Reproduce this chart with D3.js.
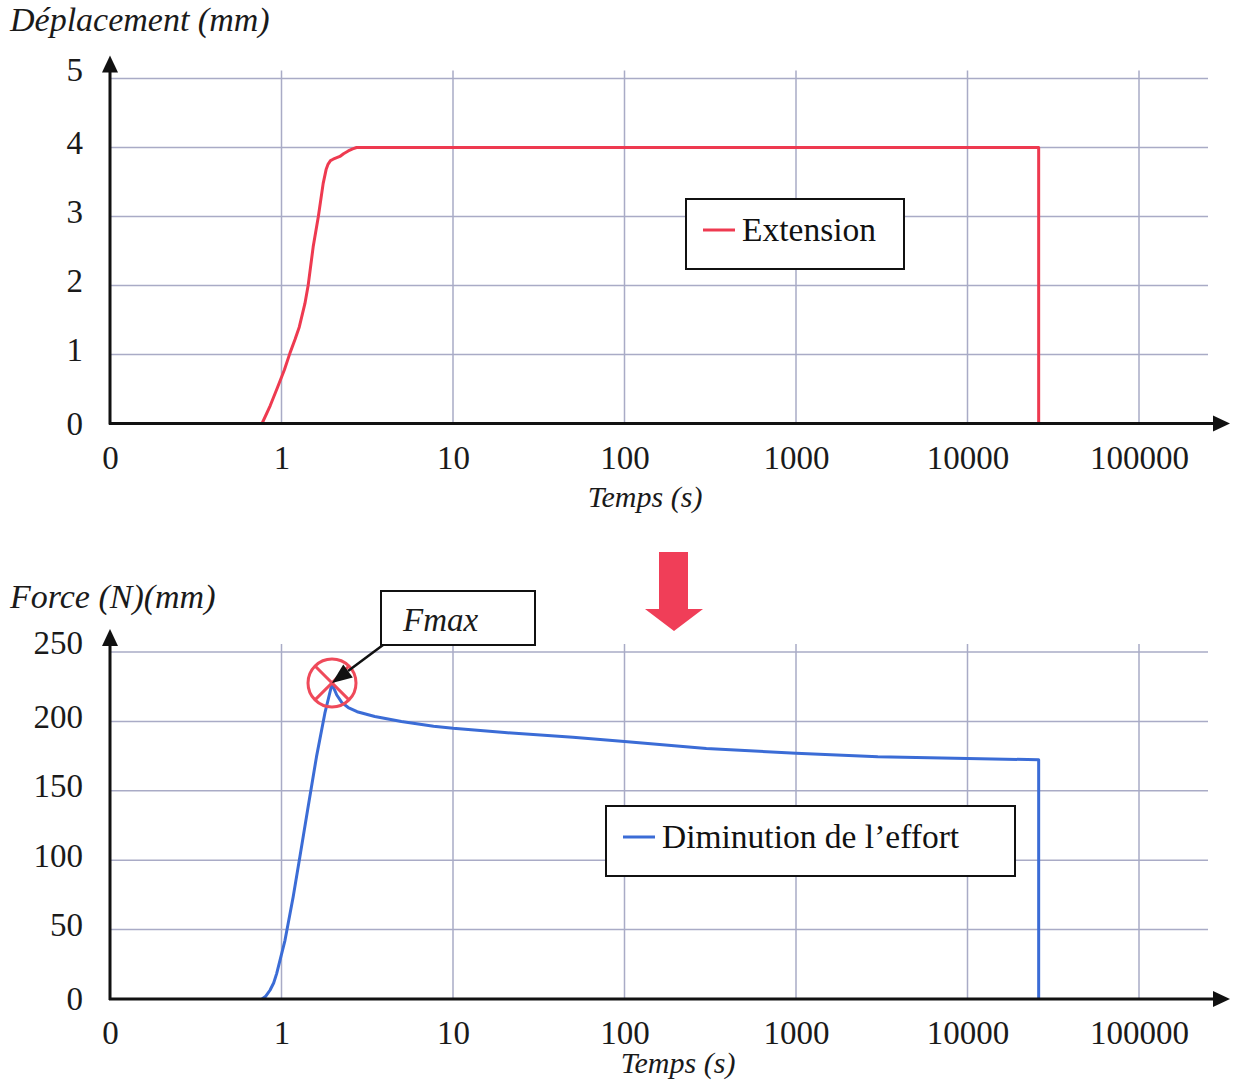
<!DOCTYPE html>
<html lang="fr">
<head>
  <meta charset="UTF-8" />
  <title>Déplacement / Force en fonction du temps</title>
  <style>
    body {
      margin: 0;
      background: #fff;
    }
    svg {
      display: block;
      font-family: "Liberation Serif", "Times New Roman", serif;
    }
    .grid line {
      stroke: #a9abc6;
      stroke-width: 1.5px;
    }
    .axis-line {
      stroke: #111;
      stroke-width: 3px;
    }
    .tick-label {
      font-family: "Liberation Serif", "Times New Roman", serif;
      font-size: 33px;
      fill: #1a1a1a;
    }
    .title {
      font-family: "Liberation Serif", "Times New Roman", serif;
      font-size: 33px;
      font-style: italic;
      fill: #1a1a1a;
    }
    .legend-box {
      fill: #fff;
      stroke: #111;
      stroke-width: 2px;
    }
    .legend-text {
      font-size: 33.5px;
      fill: #111;
    }
  </style>
</head>
<body>
  <svg width="1239" height="1086"></svg>

  <script src="https://cdnjs.cloudflare.com/ajax/libs/d3/7.8.5/d3.min.js"></script>
  <script>
    // time axis (log) - "0" sits one decade left of 1
    const timeTicks = [0.1, 1, 10, 100, 1000, 10000, 100000];
    const timeLabels = ["0", "1", "10", "100", "1000", "10000", "100000"];

    const dispTicks = [0, 1, 2, 3, 4, 5];
    const forceTicks = [0, 50, 100, 150, 200, 250];

    // Extension (mm)
    const extTime = [0.77, 0.86, 0.95, 1.04, 1.12, 1.2, 1.27, 1.37, 1.43, 1.53, 1.64, 1.75, 1.82, 1.87, 1.93, 2.0, 2.19, 2.3, 2.45, 2.6, 2.74, 26000, 26000];
    const extMm   = [0, 0.26, 0.53, 0.78, 1.02, 1.22, 1.40, 1.74, 2.0, 2.56, 3.0, 3.48, 3.68, 3.76, 3.81, 3.83, 3.87, 3.91, 3.95, 3.98, 4.0, 4.0, 0];

    // Diminution de l'effort (N)
    const forceTime = [0.77, 0.81, 0.857, 0.9, 0.937, 1.048, 1.17, 1.28, 1.43, 1.60, 1.79, 1.97, 2.1, 2.25, 2.45, 2.76, 3.5, 5, 7.7, 10, 20, 50, 100, 300, 1000, 3000, 10000, 26000, 26000];
    const forceN    = [0, 2, 6.3, 11.5, 18.3, 42.3, 73.6, 102.5, 138.5, 174.6, 205.9, 227, 219, 213.5, 210, 207, 203.5, 200, 196.5, 195, 192, 188.5, 185.5, 180.5, 177, 174.5, 173.2, 172.4, 0];

    const fmaxIndex = 11;

    const svg = d3.select("svg");

    const x = d3.scaleLog().domain([0.1, 100000]).range([110, 1139]);
    const gridRight = 1208;
    const arrowRight = 1230;

    function drawPanel(opts) {
      const g = svg.append("g");
      const y = opts.y;
      const [y0, yTop] = y.range();

      // grid
      const grid = g.append("g").attr("class", "grid");
      grid.selectAll(".h")
        .data(opts.ticks.slice(1))
        .join("line")
        .attr("x1", x(0.1)).attr("x2", gridRight)
        .attr("y1", d => y(d)).attr("y2", d => y(d));
      grid.selectAll(".v")
        .data(timeTicks.slice(1))
        .join("line")
        .attr("x1", d => x(d)).attr("x2", d => x(d))
        .attr("y1", yTop - 8).attr("y2", y0);

      // y tick labels (sit a little above their grid line, as in the scan)
      const yAxis = g.append("g")
        .attr("transform", `translate(${x(0.1)},0)`)
        .call(d3.axisLeft(y).tickValues(opts.ticks).tickSize(0).tickPadding(27)
          .tickFormat(d3.format("d")));
      yAxis.select(".domain").remove();
      yAxis.selectAll("text").attr("class", "tick-label")
        .attr("dy", (d, i) => i === 0 ? "0.32em" : (i === opts.ticks.length - 1 ? "0.05em" : "0.18em"));

      // x tick labels
      const xAxis = g.append("g")
        .attr("transform", `translate(0,${y0})`)
        .call(d3.axisBottom(x).tickValues(timeTicks).tickSize(0).tickPadding(27)
          .tickFormat((d, i) => timeLabels[i]));
      xAxis.select(".domain").remove();
      xAxis.selectAll("text").attr("class", "tick-label").attr("dy", "0.55em");

      // data line
      const line = d3.line()
        .x((d, i) => x(opts.t[i]))
        .y((d, i) => y(opts.v[i]));
      g.append("path")
        .attr("d", line(opts.v))
        .attr("fill", "none")
        .attr("stroke", opts.color)
        .attr("stroke-width", 3)
        .attr("stroke-linejoin", "round");

      // axes with arrows
      const ax = x(0.1);
      g.append("line").attr("class", "axis-line")
        .attr("x1", ax).attr("x2", ax).attr("y1", y0 + 1).attr("y2", yTop - 8);
      g.append("path")
        .attr("d", `M${ax},${yTop - 23} L${ax - 8},${yTop - 6} L${ax + 8},${yTop - 6} Z`)
        .attr("fill", "#111");
      g.append("line").attr("class", "axis-line")
        .attr("x1", ax - 1).attr("x2", arrowRight - 14).attr("y1", y0).attr("y2", y0);
      g.append("path")
        .attr("d", `M${arrowRight},${y0} L${arrowRight - 17},${y0 - 8} L${arrowRight - 17},${y0 + 8} Z`)
        .attr("fill", "#111");

      // titles
      g.append("text").attr("class", "title")
        .attr("x", 10).attr("y", opts.titleY)
        .style("font-size", "34px")
        .text(opts.title);
      g.append("text").attr("class", "title")
        .attr("x", opts.xTitleX).attr("y", opts.xTitleY)
        .attr("text-anchor", "middle")
        .style("font-size", "30px")
        .text("Temps (s)");

      // legend
      const lg = g.append("g").attr("transform", `translate(${opts.legend.x},${opts.legend.y})`);
      lg.append("rect").attr("class", "legend-box")
        .attr("width", opts.legend.w).attr("height", 70);
      lg.append("line")
        .attr("x1", 17).attr("x2", 49).attr("y1", 31).attr("y2", 31)
        .attr("stroke", opts.color).attr("stroke-width", 3);
      lg.append("text").attr("class", "legend-text")
        .attr("x", 56).attr("y", 42)
        .text(opts.legend.label);

      return g;
    }

    const yDisp = d3.scaleLinear().domain([0, 5]).range([423.5, 78.5]);
    const yForce = d3.scaleLinear().domain([0, 250]).range([999, 652]);

    drawPanel({
      y: yDisp, ticks: dispTicks, t: extTime, v: extMm,
      color: "#ee3a50",
      title: "Déplacement (mm)", titleY: 31,
      xTitleX: 645, xTitleY: 507,
      legend: { x: 686, y: 199, w: 218, label: "Extension" }
    });

    drawPanel({
      y: yForce, ticks: forceTicks, t: forceTime, v: forceN,
      color: "#3b6cd6",
      title: "Force (N)(mm)", titleY: 608,
      xTitleX: 678, xTitleY: 1073,
      legend: { x: 606, y: 806, w: 409, label: "Diminution de l\u2019effort" }
    });

    // red arrow between the panels
    svg.append("path")
      .attr("d", "M659,552 L688,552 L688,609 L703,609 L674,631 L645,609 L659,609 Z")
      .attr("fill", "#f03e58");

    // Fmax marker
    const px = x(forceTime[fmaxIndex]);
    const py = yForce(forceN[fmaxIndex]) - 1;
    const r = 24;
    const k = r * Math.SQRT1_2;
    const marker = svg.append("g").attr("stroke", "#ef4a5a").attr("stroke-width", 3).attr("fill", "none");
    marker.append("circle").attr("cx", px).attr("cy", py).attr("r", r);
    marker.append("line").attr("x1", px - k).attr("y1", py - k).attr("x2", px + k).attr("y2", py + k);
    marker.append("line").attr("x1", px + k).attr("y1", py - k).attr("x2", px - k).attr("y2", py + k);

    // Fmax label box + arrow
    const box = { x: 381, y: 591, w: 154, h: 54 };
    svg.append("rect").attr("class", "legend-box")
      .attr("x", box.x).attr("y", box.y).attr("width", box.w).attr("height", box.h);
    svg.append("text").attr("class", "title")
      .attr("x", box.x + 22).attr("y", box.y + 40)
      .text("Fmax");

    const sx = box.x + 2, sy = box.y + box.h;
    const ang = Math.atan2(py - sy, px - sx);
    const headLen = 20, headW = 8;
    const bx = px - headLen * Math.cos(ang), by = py - headLen * Math.sin(ang);
    svg.append("line")
      .attr("x1", sx).attr("y1", sy).attr("x2", bx).attr("y2", by)
      .attr("stroke", "#111").attr("stroke-width", 2.5);
    svg.append("path")
      .attr("d", `M${px},${py} L${bx + headW * Math.sin(ang)},${by - headW * Math.cos(ang)} L${bx - headW * Math.sin(ang)},${by + headW * Math.cos(ang)} Z`)
      .attr("fill", "#111");
  </script>
</body>
</html>
